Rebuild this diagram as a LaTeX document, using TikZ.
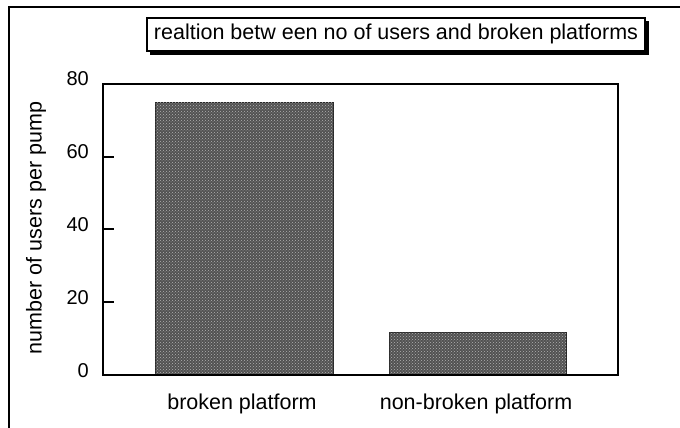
\documentclass[tikz,border=0pt]{standalone}
\usepackage{fontspec}
\setmainfont{Liberation Sans}
\usetikzlibrary{patterns}
\tikzset{
  lbl/.style={inner sep=0pt, font=\fontsize{21.5}{24}\selectfont},
  ticklbl/.style={inner sep=0pt, anchor=east, font=\fontsize{20}{22}\selectfont},
  barfill/.style={draw=black!85, line width=1pt, fill=black!68},
  bartex/.style={pattern=crosshatch dots, pattern color=black!30},
  frame/.style={line width=1.1pt},
}
\begin{document}
\begin{tikzpicture}[x=1pt, y=-1pt]
\useasboundingbox (0,0) rectangle (680,428);
% outer frame (partially visible)
\draw[frame] (9,428) -- (9,7) -- (680,7);
% title box with shadow
\fill[black] (150,21) rectangle (649,55);
\draw[line width=1.1pt, fill=white] (147,18) rectangle (645,51);
\node[lbl] (title) at (396,34) {realtion betw een no of users and broken platforms};
% bars
\draw[barfill] (155,102) rectangle (333,375);
\fill[bartex] (155,102) rectangle (333,375);
\draw[barfill] (389,332) rectangle (566,375);
\fill[bartex] (389,332) rectangle (566,375);
% plot area
\draw[line width=1.4pt] (103,84) rectangle (618,375);
% ticks
\foreach \v/\y in {20/302, 40/229, 60/157} {
  \draw[line width=1.2pt] (103,\y) -- (114,\y);
}
\foreach \v/\y in {0/371, 20/298, 40/225, 60/152, 80/79} {
  \node[ticklbl] (t\v) at (89,\y) {\v};
}
% axis title
\node[lbl, rotate=90] (ytitle) at (36,228) {number of users per pump};
% category labels
\node[lbl] (c1) at (242,404) {broken platform};
\node[lbl] (c2) at (476,404) {non-broken platform};
\end{tikzpicture}
\end{document}
